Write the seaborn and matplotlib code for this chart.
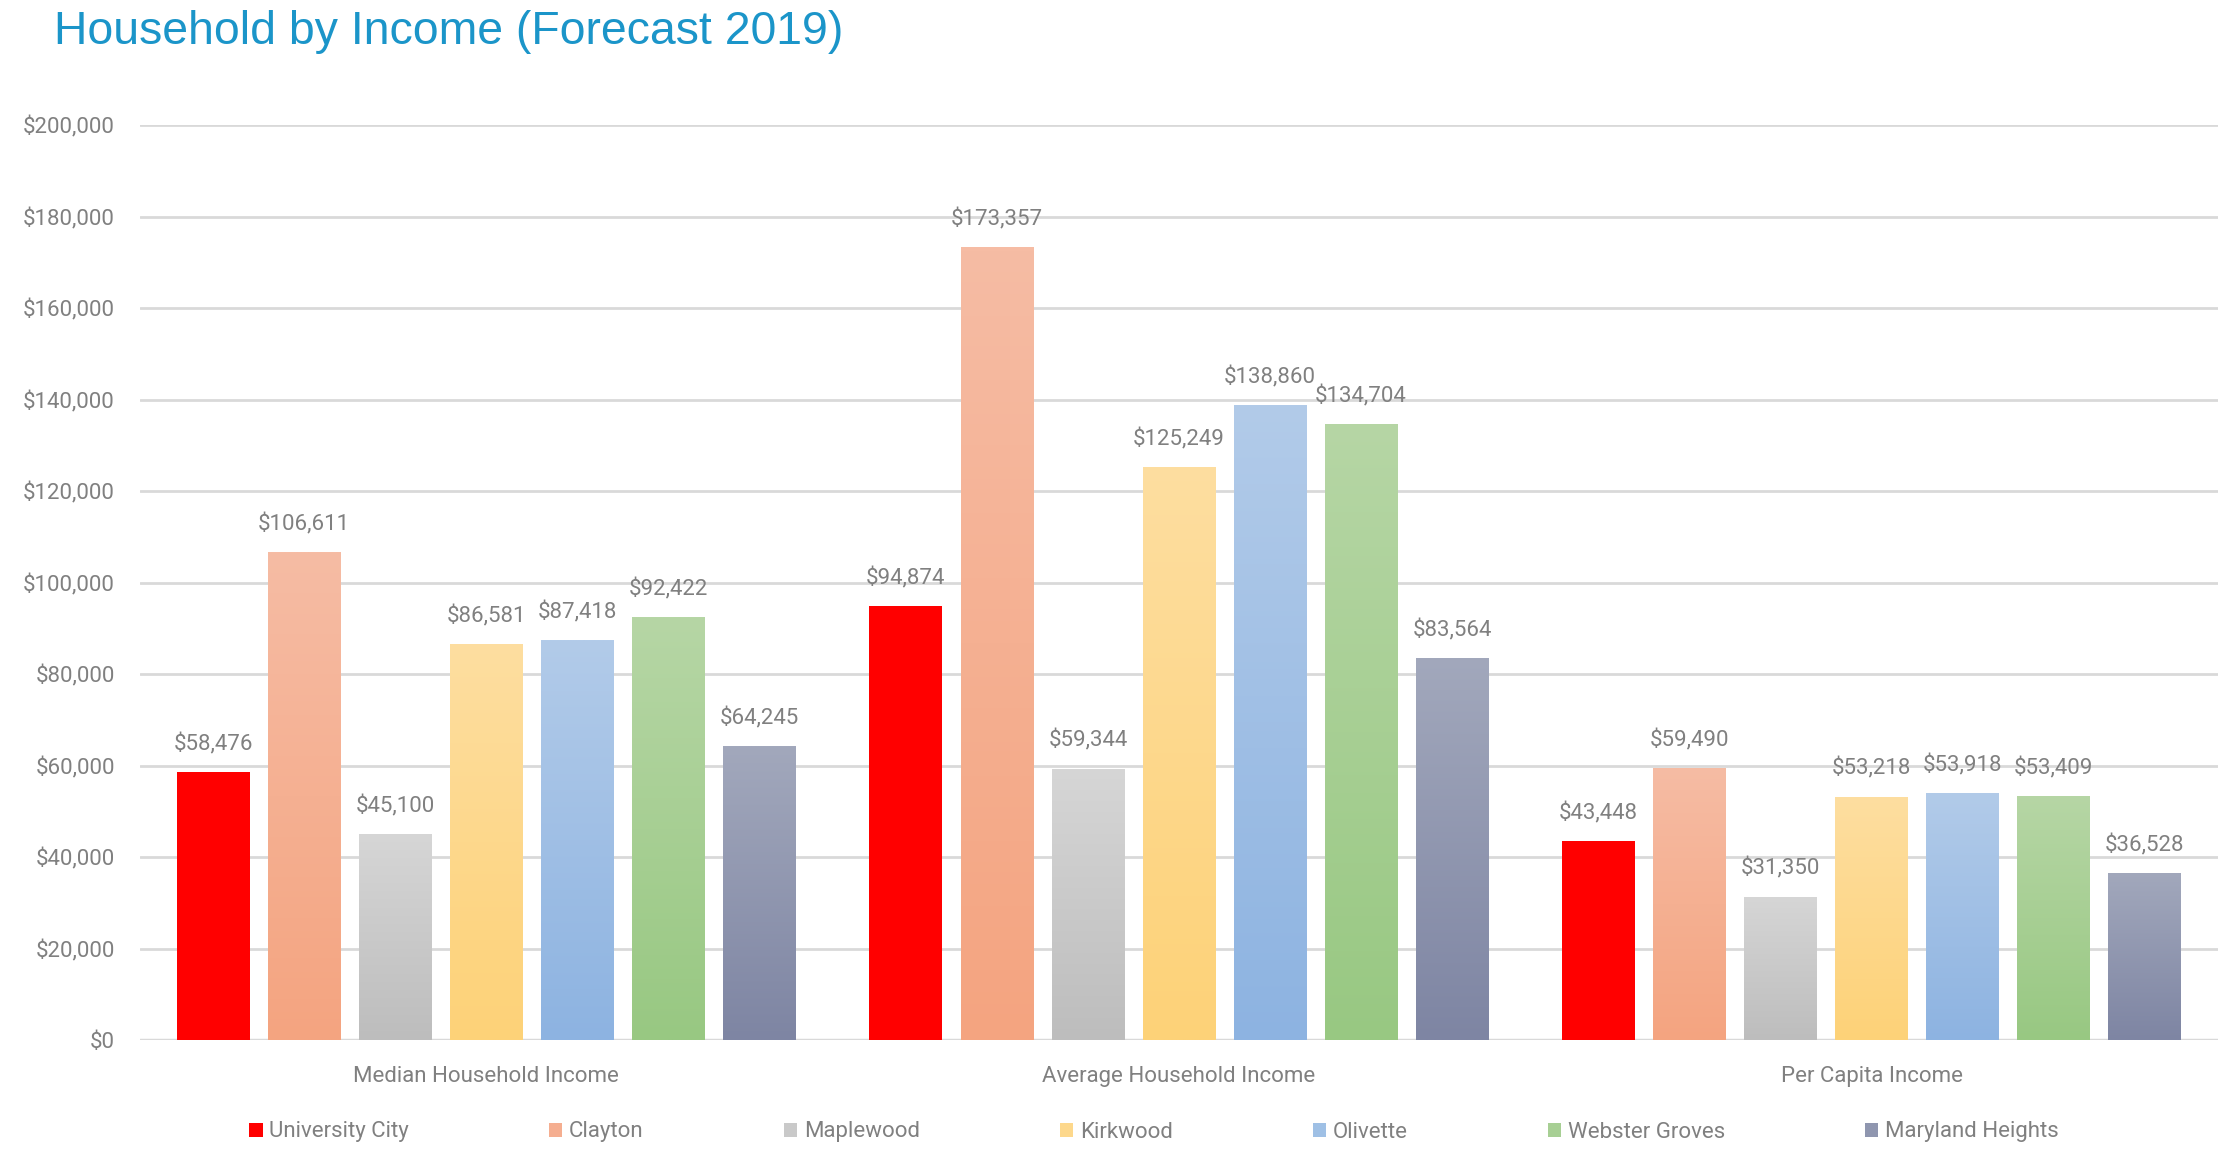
import numpy as np
import pandas as pd
import matplotlib
matplotlib.use('Agg')
import matplotlib.pyplot as plt
import seaborn as sns
from matplotlib.patches import Patch
from matplotlib.colors import LinearSegmentedColormap
from matplotlib.ticker import FuncFormatter
from matplotlib import font_manager

categories = ['Median Household Income', 'Average Household Income', 'Per Capita Income']
cities = ['University City', 'Clayton', 'Maplewood', 'Kirkwood', 'Olivette',
          'Webster Groves', 'Maryland Heights']
university_city = [58476, 94874, 43448]
clayton = [106611, 173357, 59490]
maplewood = [45100, 59344, 31350]
kirkwood = [86581, 125249, 53218]
olivette = [87418, 138860, 53918]
webster_groves = [92422, 134704, 53409]
maryland_heights = [64245, 83564, 36528]
y_ticks = [0, 20000, 40000, 60000, 80000, 100000, 120000, 140000, 160000, 180000, 200000]

series = [university_city, clayton, maplewood, kirkwood, olivette, webster_groves, maryland_heights]
rows = []
for city, vals in zip(cities, series):
    for cat, v in zip(categories, vals):
        rows.append({'category': cat, 'city': city, 'value': v})
df = pd.DataFrame(rows)

# gradient colours (top, bottom)
top_colors = ['#FF0000', '#F6BCA4', '#D6D6D6', '#FEDEA0', '#B2CBE9', '#B6D6A5', '#A2A8BC']
bot_colors = ['#FF0000', '#F4A480', '#BDBDBD', '#FDD278', '#8DB3E1', '#98C882', '#7E85A3']
mid_colors = ['#FF0000', '#F5AE90', '#C9C9C9', '#FDD88C', '#9FC0E5', '#A7CF94', '#8F96AF']

sns.set_theme(style='white')
avail = {f.name for f in font_manager.fontManager.ttflist}
lab_family = [f for f in ['Liberation Sans Narrow', 'Roboto', 'DejaVu Sans'] if f in avail]
plt.rcParams['font.family'] = lab_family
grey = '#808080'

fig = plt.figure(figsize=(22.32, 11.74), dpi=100)
ax = fig.add_axes([140/2232, 1-1040/1174, (2218-140)/2232, (1040-125)/1174])

sns.barplot(data=df, x='category', y='value', hue='city', hue_order=cities,
            order=categories, palette=dict(zip(cities, mid_colors)),
            width=0.92, gap=0.2, legend=False, ax=ax, errorbar=None,
            saturation=1, linewidth=0)

xl = ax.get_xlim()
grad = np.linspace(0, 1, 256).reshape(-1, 1)
for i, cont in enumerate(ax.containers):
    cmap = LinearSegmentedColormap.from_list(f'g{i}', [bot_colors[i], top_colors[i]])
    for bar in cont:
        x0, y0 = bar.get_x(), bar.get_y()
        w, h = bar.get_width(), bar.get_height()
        im = ax.imshow(grad, extent=[x0, x0 + w, y0, y0 + h], aspect='auto',
                       cmap=cmap, origin='lower', zorder=bar.get_zorder() + 0.1,
                       interpolation='bilinear')
        im.set_clip_path(bar)
    ax.bar_label(cont, labels=[f'${v:,.0f}' for v in cont.datavalues],
                 padding=12, fontsize=16, color=grey)

ax.set_xlim(xl)
ax.set_ylim(0, 200000)
ax.set_yticks(y_ticks)
ax.yaxis.set_major_formatter(FuncFormatter(lambda v, p: f'${v:,.0f}'))
ax.grid(axis='y', color='#D9D9D9', linewidth=2)
ax.set_axisbelow(True)
for s in ax.spines.values():
    s.set_visible(False)
ax.axhline(0, color='#D9D9D9', linewidth=2.5, zorder=0.5)
ax.tick_params(axis='y', length=0, pad=18, labelsize=16, labelcolor=grey)
ax.tick_params(axis='x', length=0, pad=19, labelsize=16, labelcolor=grey)
ax.set_xlabel('')
ax.set_ylabel('')

fig.text(54/2232, 1-32/1174, 'Household by Income (Forecast 2019)', fontsize=33.4,
         color='#1B95C9', va='center', ha='left',
         family=['Liberation Sans', 'DejaVu Sans'])

handles = [Patch(facecolor=c, edgecolor='none', label=n) for c, n in zip(mid_colors, cities)]
leg = fig.legend(handles=handles, loc='center', bbox_to_anchor=(1154/2232, 1-1132/1174),
                 ncol=7, frameon=False, fontsize=16, handlelength=0.6, handleheight=0.6,
                 handletextpad=0.3, columnspacing=6.3, labelcolor=grey)

fig.savefig('out.png', dpi=100, facecolor='white')
